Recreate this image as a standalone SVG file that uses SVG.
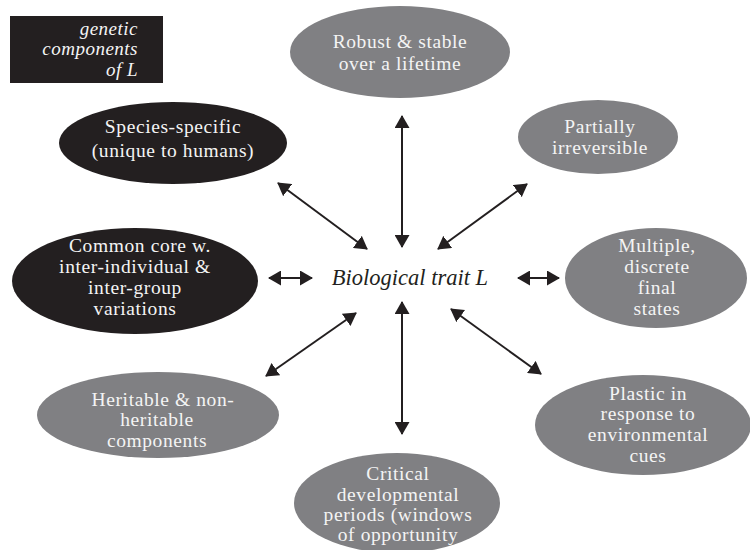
<svg xmlns="http://www.w3.org/2000/svg" width="750" height="550" viewBox="0 0 750 550">
<style>
.g{fill:#808083}
.k{fill:#231f20}
.t{font-family:"Liberation Serif","Times New Roman",serif;font-size:19.5px;letter-spacing:0.6px;fill:#f4f4f4;text-anchor:middle}
.c{font-family:"Liberation Serif","Times New Roman",serif;font-size:22.5px;font-style:italic;fill:#231f20;text-anchor:middle}
.b{font-family:"Liberation Serif","Times New Roman",serif;font-size:19px;letter-spacing:0.5px;font-style:italic;fill:#f4f4f4;text-anchor:end}
.a{stroke:#231f20;stroke-width:2;fill:none;marker-start:url(#h);marker-end:url(#h)}
</style>
<defs>
<marker id="h" viewBox="0 0 13 15" refX="12" refY="7.5" markerWidth="13" markerHeight="15" markerUnits="userSpaceOnUse" orient="auto-start-reverse">
<path d="M0,0 L13,7.5 L0,15 z" fill="#231f20"/>
</marker>
</defs>
<rect width="750" height="550" fill="#ffffff"/>
<g id="legend">
<rect x="10" y="16" width="153" height="67" class="k"/>
<text class="b" x="138" y="35">genetic</text>
<text class="b" x="138" y="55">components</text>
<text class="b" x="138" y="76">of L</text>
</g>
<g id="connectors">
<line class="a" x1="402" y1="116" x2="402" y2="247"/>
<line class="a" x1="278" y1="183" x2="367" y2="249"/>
<line class="a" x1="527" y1="184" x2="438" y2="249"/>
<line class="a" x1="269" y1="278" x2="312" y2="278"/>
<line class="a" x1="518" y1="278" x2="559" y2="278"/>
<line class="a" x1="356" y1="313" x2="266" y2="376"/>
<line class="a" x1="451" y1="309" x2="541" y2="374"/>
<line class="a" x1="402" y1="302" x2="402" y2="434"/>
</g>
<g id="center">
<text class="c" x="410" y="285">Biological trait L</text>
</g>
<g id="robust">
<ellipse cx="400" cy="52" rx="110" ry="46" class="g"/>
<text class="t" x="400" y="48">Robust &amp; stable</text>
<text class="t" x="400" y="70">over a lifetime</text>
</g>
<g id="partially">
<ellipse cx="598" cy="137" rx="80" ry="37" class="g"/>
<text class="t" x="600" y="133">Partially</text>
<text class="t" x="600" y="154">irreversible</text>
</g>
<g id="species">
<ellipse cx="173" cy="143" rx="114" ry="41" class="k"/>
<text class="t" x="173" y="133">Species-specific</text>
<text class="t" x="173" y="157">(unique to humans)</text>
</g>
<g id="common">
<ellipse cx="135" cy="281" rx="123" ry="53" class="k"/>
<text class="t" x="140" y="252">Common core w.</text>
<text class="t" x="135" y="273">inter-individual &amp;</text>
<text class="t" x="135" y="294">inter-group</text>
<text class="t" x="135" y="315">variations</text>
</g>
<g id="multiple">
<ellipse cx="656" cy="278" rx="91" ry="50" class="g"/>
<text class="t" x="657" y="252">Multiple,</text>
<text class="t" x="657" y="273">discrete</text>
<text class="t" x="657" y="294">final</text>
<text class="t" x="657" y="315">states</text>
</g>
<g id="heritable">
<ellipse cx="158" cy="415" rx="121" ry="43" class="g"/>
<text class="t" x="163" y="406">Heritable &amp; non-</text>
<text class="t" x="157" y="426">heritable</text>
<text class="t" x="157" y="447">components</text>
</g>
<g id="plastic">
<ellipse cx="643" cy="425" rx="108" ry="50" class="g"/>
<text class="t" x="648" y="400">Plastic in</text>
<text class="t" x="648" y="420">response to</text>
<text class="t" x="648" y="441">environmental</text>
<text class="t" x="648" y="462">cues</text>
</g>
<g id="critical">
<ellipse cx="397" cy="503" rx="103" ry="50" class="g"/>
<text class="t" x="398" y="480">Critical</text>
<text class="t" x="398" y="501">developmental</text>
<text class="t" x="398" y="521">periods (windows</text>
<text class="t" x="398" y="541">of opportunity</text>
</g>
</svg>
